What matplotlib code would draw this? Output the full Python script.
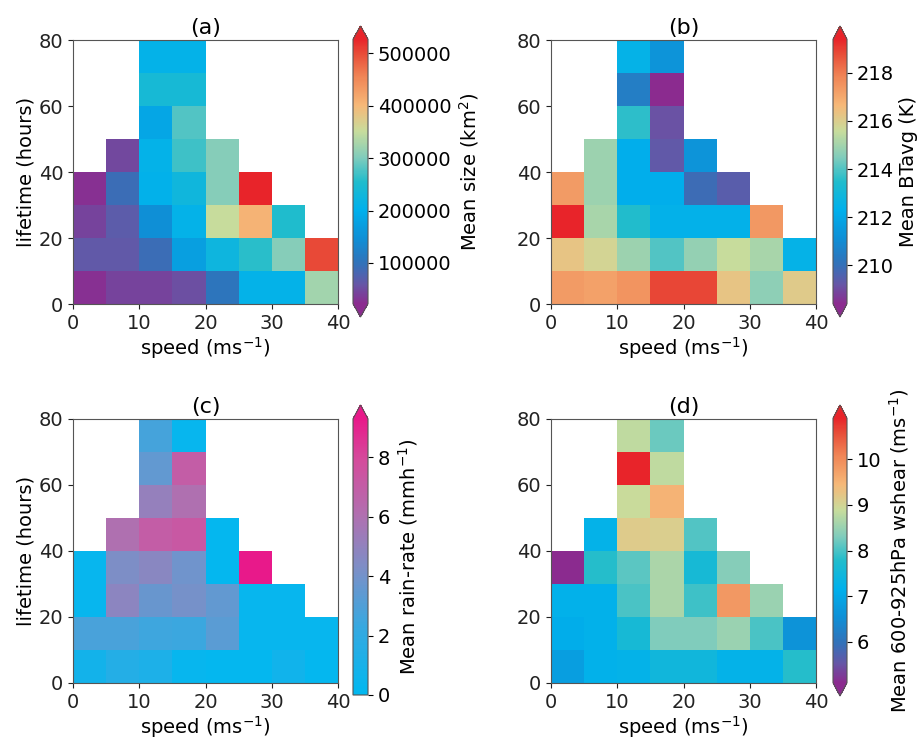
import numpy as np
import matplotlib
matplotlib.use("Agg")
import matplotlib.pyplot as plt
from matplotlib.colors import LinearSegmentedColormap

nan = np.nan

# bin edges
speed_edges = [0, 5, 10, 15, 20, 25, 30, 35, 40]
life_edges = [0, 10, 20, 30, 40, 50, 60, 70, 80]

# rows go from the bottom lifetime bin (0-10 h) up to the top (70-80 h)
mean_size = [
    [27000, 42000, 42000, 52000, 103000, 209000, 209000, 325000],
    [62000, 62000, 93000, 173000, 224000, 259000, 305000, 502000],
    [42000, 67000, 148000, 209000, 350000, 406000, 254000, nan],
    [27000, 93000, 204000, 229000, 305000, 530000, nan, nan],
    [nan, 47000, 209000, 269000, 305000, nan, nan, nan],
    [nan, nan, 184000, 280000, nan, nan, nan, nan],
    [nan, nan, 239000, 239000, nan, nan, nan, nan],
    [nan, nan, 209000, 209000, nan, nan, nan, nan],
]

mean_bt = [
    [217.3, 217.2, 217.5, 218.9, 218.9, 216.3, 214.7, 216.1],
    [216.3, 215.8, 214.9, 214.0, 214.8, 215.55, 215.1, 212.5],
    [219.4, 215.1, 213.5, 212.4, 212.4, 212.4, 217.4, nan],
    [217.3, 214.9, 212.25, 212.25, 209.9, 209.4, nan, nan],
    [nan, 214.9, 212.25, 209.3, 211.3, nan, nan, nan],
    [nan, nan, 213.6, 209.1, nan, nan, nan, nan],
    [nan, nan, 210.5, 208.4, nan, nan, nan, nan],
    [nan, nan, 212.5, 211.3, nan, nan, nan, nan],
]

mean_rain = [
    [0.8, 1.5, 1.2, 0.3, 0.2, 0.2, 0.7, 0.2],
    [2.8, 2.8, 2.5, 2.4, 3.3, 0.3, 0.3, 0.3],
    [0.3, 4.8, 3.7, 4.1, 3.5, 0.3, 0.3, nan],
    [0.3, 4.3, 4.7, 3.9, 0.2, 9.5, nan, nan],
    [nan, 6.0, 7.0, 7.3, 0.2, nan, nan, nan],
    [nan, nan, 5.1, 6.0, nan, nan, nan, nan],
    [nan, nan, 3.5, 7.0, nan, nan, nan, nan],
    [nan, nan, 2.7, 0.3, nan, nan, nan, nan],
]

mean_shear = [
    [6.8, 7.2, 7.25, 7.5, 7.5, 7.25, 7.25, 7.8],
    [7.1, 7.2, 7.6, 8.3, 8.3, 8.5, 8.0, 6.6],
    [7.2, 7.2, 8.0, 8.65, 7.95, 9.85, 8.5, nan],
    [5.1, 7.8, 8.1, 8.65, 7.6, 8.35, nan, nan],
    [nan, 7.25, 9.15, 9.1, 8.05, nan, nan, nan],
    [nan, nan, 8.9, 9.5, nan, nan, nan, nan],
    [nan, nan, 10.9, 8.8, nan, nan, nan, nan],
    [nan, nan, 8.8, 8.2, nan, nan, nan, nan],
]

# colour maps
rainbow = LinearSegmentedColormap.from_list("rb", [
    (0.00, "#8b2b8f"), (0.07, "#6656a6"), (0.156, "#2f74bb"),
    (0.247, "#0f8fd6"), (0.354, "#00b0ec"), (0.462, "#20bccc"),
    (0.553, "#80ccbc"), (0.652, "#c8dc9c"), (0.75, "#f6b878"),
    (0.854, "#f08858"), (0.949, "#e84c38"), (1.00, "#e8242a")])
rainbow.set_over("#e8242a")
rainbow.set_under("#8b2b8f")

rain_cmap = LinearSegmentedColormap.from_list("rain", [
    (0.00, "#00b8f0"), (0.25, "#38a8e0"), (0.45, "#7a90c8"),
    (0.65, "#b070b0"), (0.85, "#d44c9c"), (1.00, "#e8198a")])
rain_cmap.set_over("#e8198a")

W, H = 917, 743
fig = plt.figure(figsize=(W / 100, H / 100), dpi=100)


def px_axes(left, top, right, bottom):
    return fig.add_axes([left / W, 1 - bottom / H, (right - left) / W, (bottom - top) / H])


panels = [
    ("(a)", mean_size, rainbow, 22000, 527000, "both",
     [100000, 200000, 300000, 400000, 500000], "Mean size (km$^2$)",
     (73, 40, 338, 304), (353, 26, 368, 317), True),
    ("(b)", mean_bt, rainbow, 208.4, 219.4, "both",
     [210, 212, 214, 216, 218], "Mean BTavg (K)",
     (551, 40, 816, 304), (833, 26, 847, 317), False),
    ("(c)", mean_rain, rain_cmap, 0, 9.3, "max",
     [0, 2, 4, 6, 8], "Mean rain-rate (mmh$^{-1}$)",
     (73, 419, 338, 683), (353, 405, 368, 695), True),
    ("(d)", mean_shear, rainbow, 5.1, 10.9, "both",
     [6, 7, 8, 9, 10], "Mean 600-925hPa wshear (ms$^{-1}$)",
     (551, 419, 816, 683), (833, 405, 847, 696), False),
]

for title, data, cmap, vmin, vmax, ext, ticks, clabel, apos, cpos, ylab in panels:
    ax = px_axes(*apos)
    vals = np.ma.masked_invalid(np.array(data, dtype=float))
    mesh = ax.pcolormesh(speed_edges, life_edges, vals, cmap=cmap, vmin=vmin, vmax=vmax)
    ax.set_xlim(0, 40)
    ax.set_ylim(0, 80)
    ax.set_xticks([0, 10, 20, 30, 40])
    ax.set_yticks([0, 20, 40, 60, 80])
    ax.tick_params(labelsize=14, colors="#222222")
    for s in ax.spines.values():
        s.set_color("#555555")
    ax.set_title(title, fontsize=16, pad=4)
    ax.set_xlabel("speed (ms$^{-1}$)", fontsize=14, labelpad=2)
    if ylab:
        ax.set_ylabel("lifetime (hours)", fontsize=14, labelpad=2)
    cax = px_axes(*cpos)
    cb = fig.colorbar(mesh, cax=cax, extend=ext, ticks=ticks)
    cb.ax.tick_params(labelsize=14)
    cb.outline.set_edgecolor("#555555")
    cb.set_label(clabel, fontsize=14)

fig.savefig("out.png", dpi=100)
